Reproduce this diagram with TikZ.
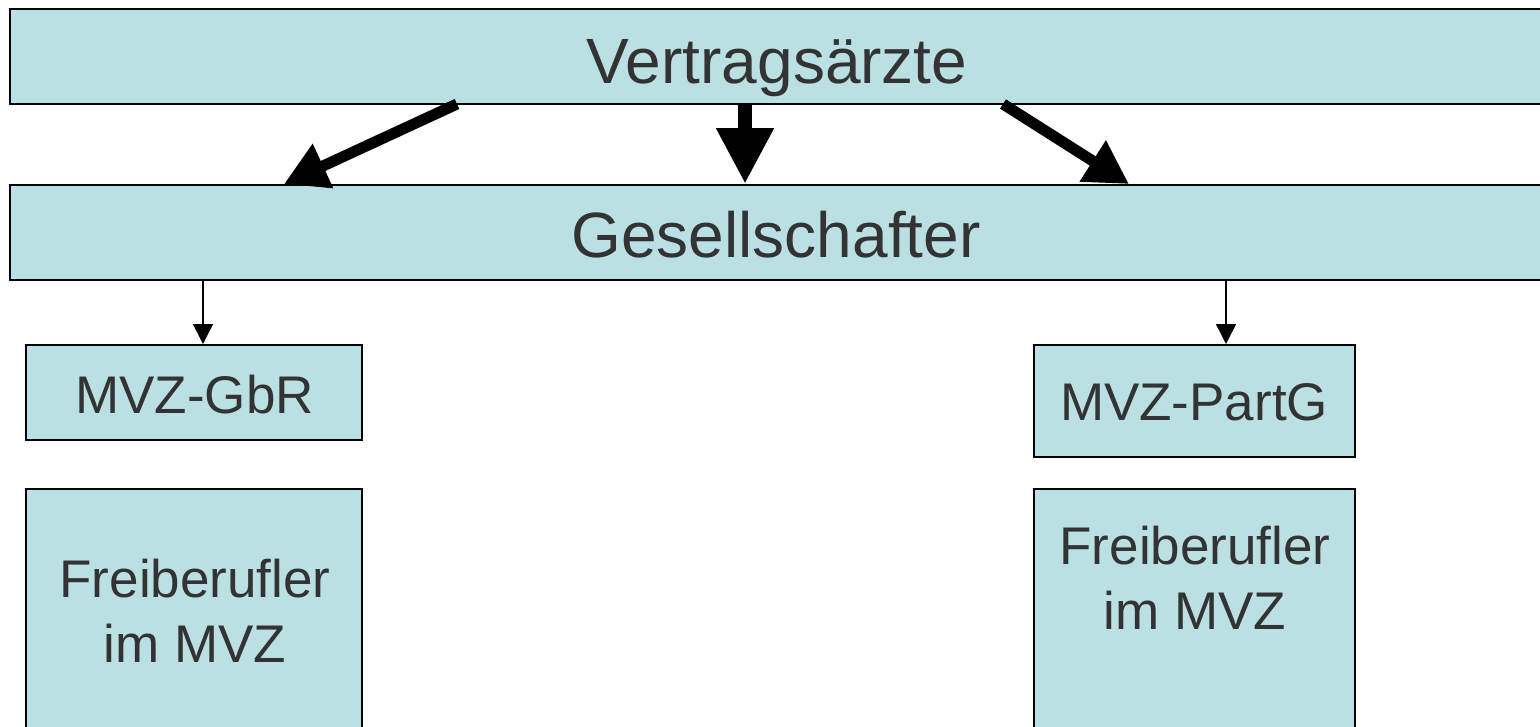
\documentclass[tikz,border=0pt]{standalone}
\usepackage{fontspec}
\setmainfont{Liberation Sans}
\usetikzlibrary{arrows.meta}
\definecolor{boxfill}{HTML}{BBE0E3}
\definecolor{txtgray}{HTML}{333333}
\tikzset{
  box/.style={draw=black, line width=2pt, fill=boxfill, rectangle, inner sep=0pt},
  bigtxt/.style={anchor=base, inner sep=0pt, text=txtgray, font=\fontsize{64}{76}\selectfont},
  smalltxt/.style={anchor=base, inner sep=0pt, text=txtgray, font=\fontsize{53}{65}\selectfont, align=center},
  thinarrow/.style={draw=black, line width=1.5pt, -{Triangle[length=20pt,width=20pt]}},
  thickarrow/.style={draw=black, line width=11pt, -{Triangle[length=43pt,width=46pt]}},
  midarrow/.style={draw=black, line width=14pt, -{Triangle[length=56pt,width=54pt]}}
}
\begin{document}
\begin{tikzpicture}[x=1pt,y=-1pt]
\useasboundingbox (0,0) rectangle (1540,726);
\clip (0,0) rectangle (1540,726);
% boxes
\node[box, minimum width=1550pt, minimum height=95pt] (vert) at (785,56.5) {};
\node[box, minimum width=1550pt, minimum height=95pt] (ges) at (785,232.5) {};
\node[box, minimum width=336pt, minimum height=95pt] (gbr) at (194,392.5) {};
\node[box, minimum width=321pt, minimum height=112pt] (partg) at (1194.5,401) {};
\node[box, minimum width=336pt, minimum height=311pt] (fr1) at (194,644.5) {};
\node[box, minimum width=321pt, minimum height=311pt] (fr2) at (1194.5,644.5) {};
% texts
\node[bigtxt] (tvert) at (777,83) {Vertragsärzte};
\node[bigtxt] (tges) at (776,257) {Gesellschafter};
\node[smalltxt] (tgbr) at (194.5,413) {MVZ-GbR};
\node[smalltxt] (tpartg) at (1194,420) {MVZ-PartG};
\node[smalltxt] (tfr1) at (195,662) {Freiberufler\\im MVZ};
\node[smalltxt] (tfr2) at (1195,629) {Freiberufler\\im MVZ};
% arrow anchor coordinates
\coordinate (a1) at (457,104);
\coordinate (b1) at (284,184);
\coordinate (a2) at (745,104);
\coordinate (b2) at (745,184);
\coordinate (a3) at (1003,104);
\coordinate (b3) at (1129,184);
\coordinate (s1) at (203,0);
\coordinate (s2) at (1226,0);
% thick arrows
\draw[thickarrow] (a1) -- (b1);
\draw[midarrow] (a2) -- (b2);
\draw[thickarrow] (a3) -- (b3);
% thin arrows
\draw[thinarrow] (ges.south -| s1) -- (gbr.north -| s1);
\draw[thinarrow] (ges.south -| s2) -- (partg.north -| s2);
\end{tikzpicture}
\end{document}
